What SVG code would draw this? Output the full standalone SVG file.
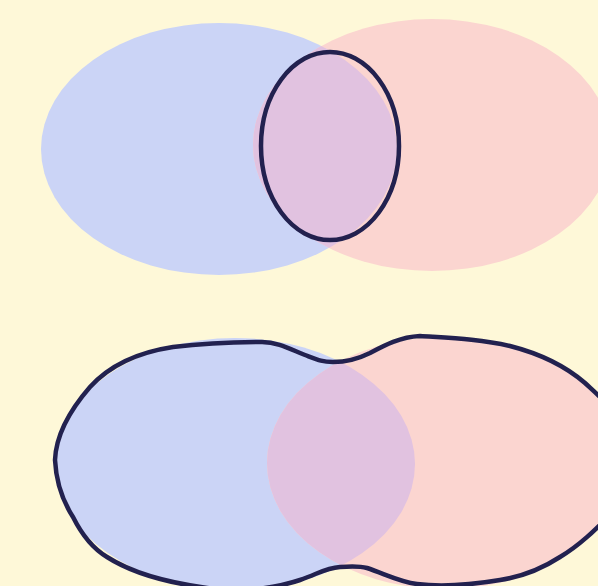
<svg xmlns="http://www.w3.org/2000/svg" width="598" height="586" viewBox="0 0 598 586">
<style>
.a{fill:#cbd4f6}
.b{fill:#fbd5d0}
.ab{fill:#e1c2e0}
.out{fill:none;stroke:#22214f;stroke-width:4.5;stroke-linejoin:round}
</style>
<defs>
<clipPath id="cTop"><ellipse cx="219" cy="149" rx="178" ry="126"/></clipPath>
<clipPath id="cBot"><ellipse cx="235" cy="464" rx="180" ry="126"/></clipPath>
</defs>
<rect width="598" height="586" fill="#fef8d8"/>
<g id="intersection">
<ellipse class="a" cx="219" cy="149" rx="178" ry="126"/>
<ellipse class="b" cx="432" cy="145" rx="179" ry="126"/>
<ellipse class="ab" cx="432" cy="145" rx="179" ry="126" clip-path="url(#cTop)"/>
<ellipse class="out" cx="330" cy="146" rx="69" ry="94"/>
</g>
<g id="union">
<ellipse class="a" cx="235" cy="464" rx="180" ry="126"/>
<ellipse class="b" cx="445" cy="463" rx="178" ry="126"/>
<ellipse class="ab" cx="445" cy="463" rx="178" ry="126" clip-path="url(#cBot)"/>
<path class="out" d="M333,362 C322,362 318,360 305,355 C290,349 278,342 262,342 C235,342 205,343 173,347 C140,352 110,365 90,387 C70,410 56,435 55,460 C56,480 62,500 73,517 C82,535 92,548 107,557 C135,575 170,583 207,588 C240,592 270,590 300,580 C318,574 325,568 340,567 C352,566 360,566 367,568 C385,574 400,582 417,584 C440,587 470,585 500,580 C520,577 540,570 560,557 C580,545 595,530 610,515 L620,420 C610,405 598,395 585,383 C570,370 545,355 510,346 C480,339 450,338 420,336 C400,337 385,345 370,353 C358,359 345,362 333,362 Z"/>
</g>
</svg>
